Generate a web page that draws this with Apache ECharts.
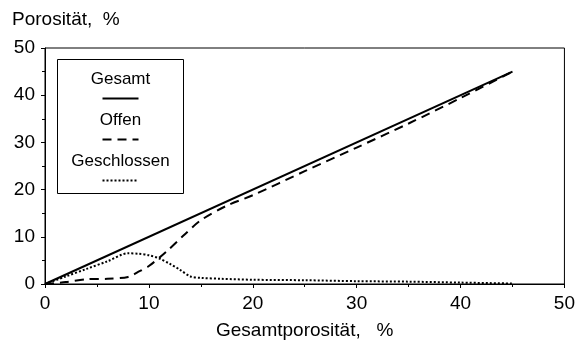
<!DOCTYPE html>
<html>
<head>
<meta charset="utf-8">
<script src="https://cdn.jsdelivr.net/npm/echarts@6/dist/echarts.min.js"></script>
<style>
  html, body { margin: 0; padding: 0; background: #fff; }
  #chart { width: 578px; height: 345px; }
</style>
</head>
<body>
<div id="chart"></div>
<script>
// Total porosity (x) vs. porosity split into open and closed parts
const gesamtX = [0, 45];
const gesamtY = [0, 45];

const offenX = [0, 2, 4, 6, 8, 9, 10, 11.7, 13.3, 15, 17.5, 20, 25, 30, 35, 40, 45];
const offenY = [0, 0.4, 1.0, 1.1, 1.5, 2.6, 3.8, 6.9, 10.2, 13.5, 16.6, 18.8, 23.9, 28.9, 34.0, 39.4, 45];

const geschlossenX = [0, 2, 4, 6, 8, 9, 10, 11, 12, 13, 14, 15, 17, 20, 25, 30, 35, 40, 45];
const geschlossenY = [0, 1.6, 3.2, 4.8, 6.5, 6.4, 6.1, 5.4, 4.3, 3.0, 1.6, 1.3, 1.1, 0.9, 0.8, 0.6, 0.5, 0.3, 0.1];

const xTicks = [0, 10, 20, 30, 40, 50];
const yTicks = [0, 10, 20, 30, 40, 50];

const legendNames = ['Gesamt', 'Offen', 'Geschlossen'];

const pairs = (xs, ys) => xs.map((x, i) => [x, ys[i]]);

const FONT = 'Liberation Sans, Arial, sans-serif';
const chart = echarts.init(document.getElementById('chart'), null, { renderer: 'canvas' });

const lineStyles = [
  { type: 'solid', width: 2 },
  { type: [9, 6], width: 2 },
  { type: [2, 2], width: 2 }
];

chart.setOption({
  animation: false,
  backgroundColor: '#fff',
  grid: {
    left: 45, right: 13, top: 48, bottom: 59,
    show: true, borderColor: '#000', borderWidth: 1, backgroundColor: 'transparent'
  },
  xAxis: {
    type: 'value', min: xTicks[0], max: xTicks[xTicks.length - 1], interval: 10,
    name: 'Gesamtporosität,   %', nameLocation: 'middle', nameGap: 37,
    nameTextStyle: { fontFamily: FONT, fontSize: 19, color: '#000' },
    axisLine: { lineStyle: { color: '#000', width: 1 } },
    axisTick: { show: true, length: 4, lineStyle: { color: '#000' } },
    minorTick: { show: true, splitNumber: 2, length: 3, lineStyle: { color: '#000' } },
    axisLabel: { fontFamily: FONT, fontSize: 19, color: '#000', margin: 10 },
    splitLine: { show: false }
  },
  yAxis: {
    type: 'value', min: yTicks[0], max: yTicks[yTicks.length - 1], interval: 10,
    axisLine: { show: true, lineStyle: { color: '#000', width: 1 } },
    axisTick: { show: true, length: 4, lineStyle: { color: '#000' } },
    minorTick: { show: true, splitNumber: 2, length: 3, lineStyle: { color: '#000' } },
    axisLabel: { fontFamily: FONT, fontSize: 19, color: '#000', margin: 10 },
    splitLine: { show: false }
  },
  series: [
    { name: legendNames[0], type: 'line', data: pairs(gesamtX, gesamtY), showSymbol: false,
      lineStyle: Object.assign({ color: '#000' }, lineStyles[0]) },
    { name: legendNames[1], type: 'line', data: pairs(offenX, offenY), showSymbol: false, smooth: 0.3,
      lineStyle: Object.assign({ color: '#000' }, lineStyles[1]) },
    { name: legendNames[2], type: 'line', data: pairs(geschlossenX, geschlossenY), showSymbol: false, smooth: 0.3,
      lineStyle: Object.assign({ color: '#000' }, lineStyles[2]) }
  ],
  graphic: [
    { type: 'text', left: 12, top: 10,
      style: { text: 'Porosität,  %', fontFamily: FONT, fontSize: 19, fill: '#000' } },
    {
      type: 'group', left: 57, top: 59,
      children: [
        { type: 'rect', shape: { x: 0, y: 0, width: 126, height: 134 },
          style: { fill: '#fff', stroke: '#000', lineWidth: 1 } }
      ].concat(...legendNames.map((n, i) => [
        { type: 'text', x: 63, y: 20 + i * 41,
          style: { text: n, fontFamily: FONT, fontSize: 17, fill: '#000', align: 'center', verticalAlign: 'middle' } },
        { type: 'line', shape: { x1: 45, y1: 39 + i * 41, x2: 81, y2: 39 + i * 41 },
          style: { stroke: '#000', lineWidth: 2, lineDash: i === 0 ? null : (i === 1 ? [9, 6] : [2, 2]) } }
      ]))
    }
  ]
});
</script>
</body>
</html>
